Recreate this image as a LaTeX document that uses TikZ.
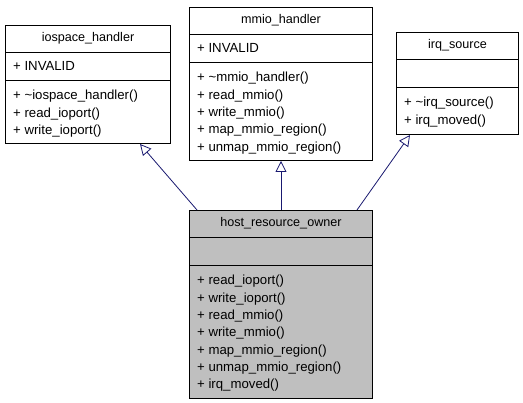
\documentclass[tikz,border=0pt]{standalone}
\usepackage{fontspec}
\setmainfont{Liberation Sans}
\usetikzlibrary{arrows.meta,calc}
\definecolor{edgeblue}{HTML}{191970}
\definecolor{hostgray}{HTML}{BFBFBF}
\begin{document}
\begin{tikzpicture}[x=1pt,y=-1pt,
  box/.style={draw=black, line width=1pt, inner sep=0pt, anchor=north west},
  title/.style={font=\fontsize{12.6}{15}\selectfont, anchor=center, inner sep=0pt, text height=9pt, text depth=3pt},
  member/.style={font=\fontsize{13.2}{15}\selectfont, anchor=west, inner sep=0pt, text height=9pt, text depth=3pt},
  divider/.style={draw=black, line width=1pt},
  inherit/.style={draw=edgeblue, line width=0.8pt, -{Triangle[open, length=11pt, width=11pt, fill=white]}}]
\useasboundingbox (0,0) rectangle (523,403);
\fill[white] (0,0) rectangle (523,403);

% iospace_handler
\node[box, minimum width=165pt, minimum height=118pt] (ios) at (5,25) {};
\draw[divider] ($(ios.north west)+(0,28)$) -- ($(ios.north east)+(0,28)$);
\draw[divider] ($(ios.north west)+(0,56)$) -- ($(ios.north east)+(0,56)$);
\node[title] (iost) at ($(ios.north)+(0,14)$) {iospace\_handler};
\node[member] (ios1) at ($(ios.north west)+(8,43)$) {+ INVALID};
\node[member] (ios2) at ($(ios.north west)+(8,72)$) {+ \textasciitilde iospace\_handler()};
\node[member] (ios3) at ($(ios.north west)+(8,89.3)$) {+ read\_ioport()};
\node[member] (ios4) at ($(ios.north west)+(8,106.6)$) {+ write\_ioport()};

% mmio_handler
\node[box, minimum width=183pt, minimum height=153pt] (mmio) at (189,7) {};
\draw[divider] ($(mmio.north west)+(0,28)$) -- ($(mmio.north east)+(0,28)$);
\draw[divider] ($(mmio.north west)+(0,56)$) -- ($(mmio.north east)+(0,56)$);
\node[title] (mmiot) at ($(mmio.north)+(0,14)$) {mmio\_handler};
\node[member] (mmio1) at ($(mmio.north west)+(8,43)$) {+ INVALID};
\node[member] (mmio2) at ($(mmio.north west)+(8,72)$) {+ \textasciitilde mmio\_handler()};
\node[member] (mmio3) at ($(mmio.north west)+(8,89.3)$) {+ read\_mmio()};
\node[member] (mmio4) at ($(mmio.north west)+(8,106.6)$) {+ write\_mmio()};
\node[member] (mmio5) at ($(mmio.north west)+(8,123.9)$) {+ map\_mmio\_region()};
\node[member] (mmio6) at ($(mmio.north west)+(8,141.2)$) {+ unmap\_mmio\_region()};

% irq_source
\node[box, minimum width=122pt, minimum height=102pt] (irq) at (396,32) {};
\draw[divider] ($(irq.north west)+(0,28)$) -- ($(irq.north east)+(0,28)$);
\draw[divider] ($(irq.north west)+(0,56)$) -- ($(irq.north east)+(0,56)$);
\node[title] (irqt) at ($(irq.north)+(0,14)$) {irq\_source};
\node[member] (irq1) at ($(irq.north west)+(8,72)$) {+ \textasciitilde irq\_source()};
\node[member] (irq2) at ($(irq.north west)+(8,89.3)$) {+ irq\_moved()};

% host_resource_owner
\node[box, fill=hostgray, minimum width=183pt, minimum height=188pt] (host) at (189,210) {};
\draw[divider] ($(host.north west)+(0,28)$) -- ($(host.north east)+(0,28)$);
\draw[divider] ($(host.north west)+(0,56)$) -- ($(host.north east)+(0,56)$);
\node[title] (hostt) at ($(host.north)+(0,14)$) {host\_resource\_owner};
\node[member] (host1) at ($(host.north west)+(8,72)$) {+ read\_ioport()};
\node[member] (host2) at ($(host.north west)+(8,89.3)$) {+ write\_ioport()};
\node[member] (host3) at ($(host.north west)+(8,106.6)$) {+ read\_mmio()};
\node[member] (host4) at ($(host.north west)+(8,123.9)$) {+ write\_mmio()};
\node[member] (host5) at ($(host.north west)+(8,141.2)$) {+ map\_mmio\_region()};
\node[member] (host6) at ($(host.north west)+(8,158.5)$) {+ unmap\_mmio\_region()};
\node[member] (host7) at ($(host.north west)+(8,175.8)$) {+ irq\_moved()};

% inheritance
\draw[inherit] ($(host.north west)+(8,0)$) -- ($(ios.south west)+(135,0)$);
\draw[inherit] (host.north) -- (mmio.south);
\draw[inherit] ($(host.north west)+(168,0)$) -- ($(irq.south west)+(14,0)$);
\end{tikzpicture}
\end{document}
